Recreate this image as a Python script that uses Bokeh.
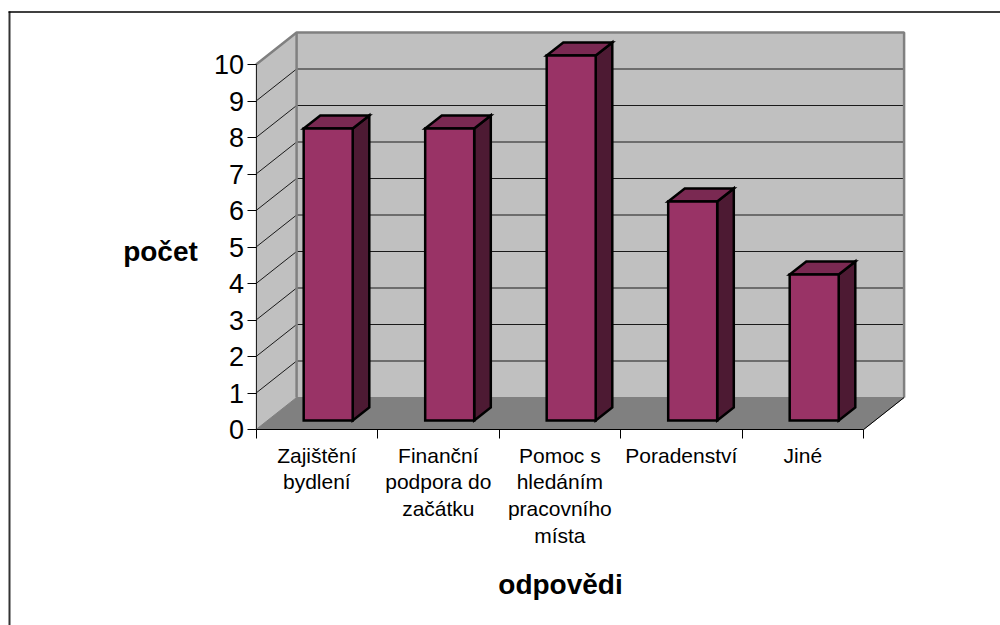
from bokeh.plotting import figure
from bokeh.models import LinearAxis, FixedTicker, Range1d, ColumnDataSource
from bokeh.core.properties import value
from bokeh.embed import file_html
from bokeh.resources import INLINE

categories = ["Zajištění\nbydlení", "Finanční\npodpora do\nzačátku", "Pomoc s\nhledáním\npracovního\nmísta", "Poradenství", "Jiné"]
counts = [8, 8, 10, 6, 4]
y_ticks = list(range(0, 11))
x_title = "odpovědi"
y_title = "počet"

FONT = "Liberation Sans"
# pixel scale of the chart box on the page
X0, Y0 = 255.6, 429.0
PX_U, PX_V = 121.5, 36.5
W, H = 1000, 625
DX, DY = 40.5 / PX_U, 32 / PX_V        # depth of the box in data units
BAR_W = 49 / PX_U
F0, F1 = 0.28, 0.69                    # bar's depth span
n = len(categories)
vmax = 10

p = figure(width=W, height=H, output_backend="svg", toolbar_location=None,
           x_range=Range1d((0 - X0) / PX_U, (W - X0) / PX_U),
           y_range=Range1d((Y0 - H) / PX_V, Y0 / PX_V),
           min_border=0, outline_line_color=None, background_fill_color="white",
           border_fill_color="white")
p.xaxis.visible = False
p.yaxis.visible = False
p.xgrid.visible = False
p.ygrid.visible = False

# walls and floor
p.patch([0, DX, DX, 0], [0, DY, vmax + DY, vmax], fill_color="#C0C0C0", line_color="#C0C0C0")
p.patch([DX, n + DX, n + DX, DX], [DY, DY, vmax + DY, vmax + DY], fill_color="#C0C0C0", line_color="#C0C0C0")
p.patch([0, n, n + DX, DX], [0, 0, DY, DY], fill_color="#808080", line_color="#808080")

# gridlines
p.multi_line([[0, DX, n + DX] for v in y_ticks[1:-1]],
             [[v, v + DY, v + DY] for v in y_ticks[1:-1]], line_color="#1a1a1a", line_width=1)
# wall edges
p.line([0, DX, n + DX, n + DX], [vmax, vmax + DY, vmax + DY, DY], line_color="#808080", line_width=2.5)
p.line([DX, DX], [DY, vmax + DY], line_color="#808080", line_width=2.5)
p.line([n, n + DX], [0, DY], line_color="black", line_width=1)

# bars
fx = [i + 0.5 - BAR_W / 2 + F0 * DX for i in range(n)]
bx = F1 - F0
fy = F0 * DY
fronts_x = [[x, x + BAR_W, x + BAR_W, x] for x in fx]
fronts_y = [[fy, fy, fy + c, fy + c] for c in counts]
tops_x = [[x, x + BAR_W, x + BAR_W + bx * DX, x + bx * DX] for x in fx]
tops_y = [[fy + c, fy + c, fy + c + bx * DY, fy + c + bx * DY] for c in counts]
sides_x = [[x + BAR_W, x + BAR_W + bx * DX, x + BAR_W + bx * DX, x + BAR_W] for x in fx]
sides_y = [[fy, fy + bx * DY, fy + c + bx * DY, fy + c] for c in counts]
p.patches(sides_x, sides_y, fill_color="#4D1A33", line_color="black", line_width=2.5, line_join="miter")
p.patches(tops_x, tops_y, fill_color="#7A2952", line_color="black", line_width=2.5, line_join="miter")
p.patches(fronts_x, fronts_y, fill_color="#993366", line_color="black", line_width=2.5, line_join="miter")

# axes
ya = LinearAxis(ticker=FixedTicker(ticks=y_ticks), fixed_location=0, bounds=(0, vmax),
                major_label_text_font=FONT, major_label_text_font_size="27px",
                major_label_text_color="black", major_tick_in=0, major_tick_out=9,
                minor_tick_line_color=None, major_label_standoff=3,
                axis_line_color="#222222", major_tick_line_color="black")
p.add_layout(ya, "left")
xa = LinearAxis(ticker=FixedTicker(ticks=[], minor_ticks=list(range(n + 1))), fixed_location=0, bounds=(0, n),
                minor_tick_in=0, minor_tick_out=9, major_tick_line_color=None,
                axis_line_color="black", minor_tick_line_color="black")
p.add_layout(xa, "below")

# category labels
src = ColumnDataSource(dict(x=[i + 0.5 for i in range(n)], y=[0] * n, t=categories))
p.text("x", "y", text="t", source=src, y_offset=14, text_align="center", text_baseline="top",
       text_font=value(FONT), text_font_size="21px", text_line_height=1.16, text_color="black")

# axis titles
p.text([(560 - X0) / PX_U], [0], text=[x_title], y_offset=155, text_align="center", text_baseline="middle",
       text_font=value(FONT), text_font_size="28px", text_font_style="bold", text_color="black")
p.text([(160 - X0) / PX_U], [(Y0 - 251) / PX_V], text=[y_title], text_align="center", text_baseline="middle",
       text_font=value(FONT), text_font_size="28px", text_font_style="bold", text_color="black")

# page frame
xl, xr = p.x_range.start, p.x_range.end
yb, yt = p.y_range.start, p.y_range.end
p.line([xl + 9 / PX_U, xl + 9 / PX_U], [yb, yt - 11 / PX_V], line_color="#333333", line_width=2)
p.line([xl + 8 / PX_U, xr], [yt - 11.5 / PX_V] * 2, line_color="black", line_width=1.5)

open("out.html", "w").write(file_html(p, INLINE))
